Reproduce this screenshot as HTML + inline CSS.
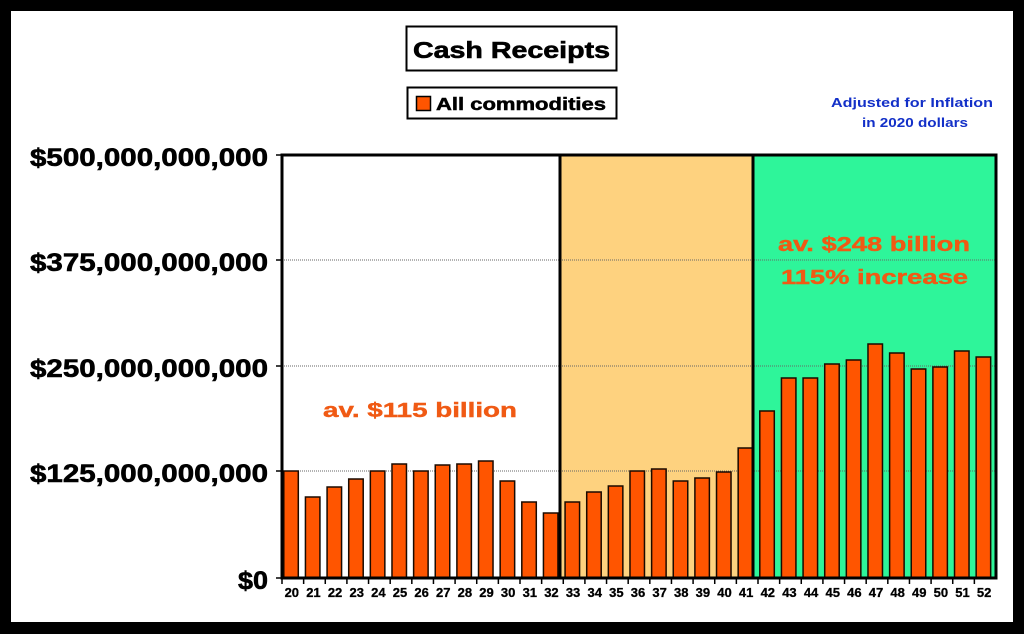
<!DOCTYPE html>
<html><head><meta charset="utf-8"><style>
html,body{margin:0;padding:0;background:#000;}
svg{display:block;}
text{font-family:"Liberation Sans",Arial,sans-serif;font-weight:bold;}
</style></head><body>
<svg width="1024" height="634" viewBox="0 0 1024 634" xmlns="http://www.w3.org/2000/svg">
<rect x="0" y="0" width="1024" height="634" fill="#000"/>
<rect x="11" y="11" width="1002" height="611" fill="#fff"/>
<rect x="282" y="155" width="278" height="423" fill="#fff"/>
<rect x="560" y="155" width="193" height="423" fill="#FED27F"/>
<rect x="753" y="155" width="243" height="423" fill="#2EF59A"/>
<g stroke="#666" stroke-width="1" stroke-dasharray="1,1">
<line x1="282" y1="260" x2="996" y2="260"/>
<line x1="282" y1="366" x2="996" y2="366"/>
<line x1="282" y1="471" x2="996" y2="471"/>
</g>
<g fill="#FF5500" stroke="#1a0a00" stroke-width="1.5" id="bars"></g>
<line x1="560" y1="155" x2="560" y2="578" stroke="#000" stroke-width="3"/>
<line x1="753" y1="155" x2="753" y2="578" stroke="#000" stroke-width="3"/>
<rect x="282" y="155" width="714" height="423" fill="none" stroke="#000" stroke-width="3"/>
<g stroke="#000" stroke-width="1.5">
<line x1="276" y1="155" x2="282" y2="155"/><line x1="276" y1="260" x2="282" y2="260"/>
<line x1="276" y1="366" x2="282" y2="366"/><line x1="276" y1="471" x2="282" y2="471"/>
<line x1="276" y1="578" x2="282" y2="578"/>
</g>
<g font-size="25" fill="#000" stroke="#000" stroke-width="0.6" lengthAdjust="spacingAndGlyphs">
<text x="30" y="166" textLength="238" lengthAdjust="spacingAndGlyphs">$500,000,000,000</text>
<text x="30" y="271" textLength="238" lengthAdjust="spacingAndGlyphs">$375,000,000,000</text>
<text x="30" y="377" textLength="238" lengthAdjust="spacingAndGlyphs">$250,000,000,000</text>
<text x="30" y="482" textLength="238" lengthAdjust="spacingAndGlyphs">$125,000,000,000</text>
<text x="238" y="589" textLength="30" lengthAdjust="spacingAndGlyphs">$0</text>
</g>
<g id="xticks" stroke="#000" stroke-width="1.5"></g>
<g id="xlabels" font-size="13" text-anchor="middle" fill="#000" stroke="#000" stroke-width="0.3"></g>
<g fill="#F05A14" font-size="20" stroke="#F05A14" stroke-width="0.4">
<text x="323" y="417" textLength="194" lengthAdjust="spacingAndGlyphs">av. $115 billion</text>
<text x="778" y="251" textLength="192" lengthAdjust="spacingAndGlyphs">av. $248 billion</text>
<text x="781" y="284" textLength="187" lengthAdjust="spacingAndGlyphs">115% increase</text>
</g>
<text x="831" y="107" font-size="12.5" fill="#1330C8" textLength="162" lengthAdjust="spacingAndGlyphs">Adjusted for Inflation</text>
<text x="862" y="127" font-size="12.5" fill="#1330C8" textLength="106" lengthAdjust="spacingAndGlyphs">in 2020 dollars</text>
<rect x="406.5" y="26.5" width="210" height="44" fill="#fff" stroke="#000" stroke-width="2"/>
<text x="413" y="58" font-size="23" stroke="#000" stroke-width="0.6" textLength="197" lengthAdjust="spacingAndGlyphs">Cash Receipts</text>
<rect x="407.5" y="87.5" width="209" height="31" fill="#fff" stroke="#000" stroke-width="2"/>
<rect x="416.5" y="96.5" width="14" height="14" fill="#FF5500" stroke="#000" stroke-width="1.5"/>
<text x="436" y="110" font-size="17.5" stroke="#000" stroke-width="0.5" textLength="170" lengthAdjust="spacingAndGlyphs">All commodities</text>
</svg>
<script>
var h=[107,81,91,99,107,114,107,113,114,117,97,76,65,76,86,92,107,109,97,100,106,130,167,200,200,214,218,234,225,209,211,227,221];
var ns="http://www.w3.org/2000/svg",b=document.getElementById('bars'),t=document.getElementById('xticks'),l=document.getElementById('xlabels');
var s=714/33;
for(var i=0;i<33;i++){
 var x=282+1.8+i*s;
 var r=document.createElementNS(ns,'rect');
 r.setAttribute('x',x);r.setAttribute('y',578-h[i]);r.setAttribute('width',14.5);r.setAttribute('height',h[i]);
 b.appendChild(r);
 var ln=document.createElementNS(ns,'line');var tx=282+i*s;
 ln.setAttribute('x1',tx);ln.setAttribute('x2',tx);ln.setAttribute('y1',578);ln.setAttribute('y2',584);t.appendChild(ln);
 var te=document.createElementNS(ns,'text');te.setAttribute('x',x+8);te.setAttribute('y',597);te.textContent=String(20+i);l.appendChild(te);
}
</script>
</body></html>
